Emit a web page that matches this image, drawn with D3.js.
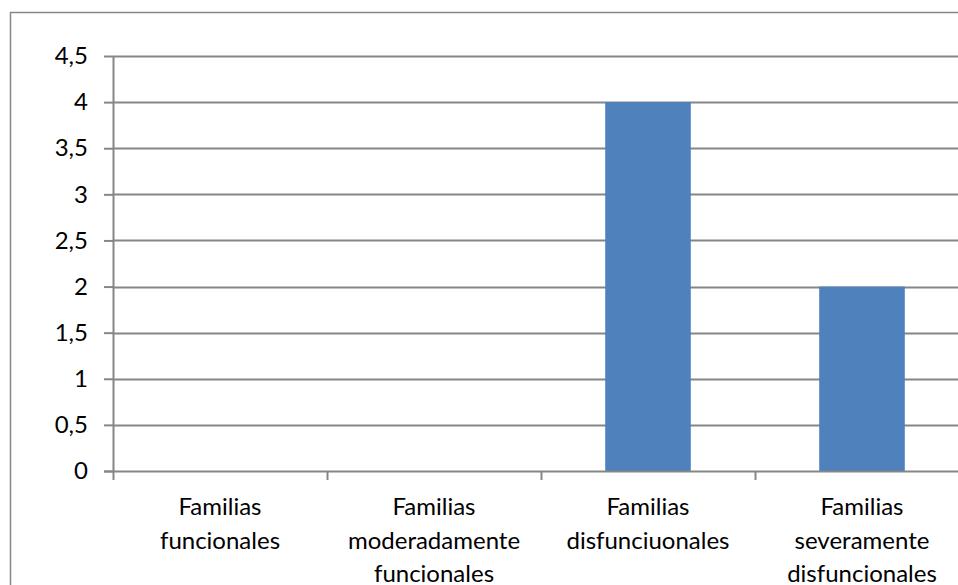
<!DOCTYPE html>
<html>
<head>
<meta charset="utf-8">
<script src="https://cdn.jsdelivr.net/npm/d3@7"></script>
<style>
  html, body { margin: 0; padding: 0; background: #fff; overflow: hidden; }
  svg { display: block; }
  text { font-family: Lato, "Open Sans", sans-serif; fill: #000; }
</style>
</head>
<body>
<svg id="chart" width="958" height="585"></svg>
<script>
// Family functioning categories and counts
const categories = [
  ["Familias", "funcionales"],
  ["Familias", "moderadamente", "funcionales"],
  ["Familias", "disfunciuonales"],
  ["Familias", "severamente", "disfuncionales"]
];
const values = [0, 0, 4, 2];
const yTicks = [0, 0.5, 1, 1.5, 2, 2.5, 3, 3.5, 4, 4.5];
const yTickLabels = ["0", "0,5", "1", "1,5", "2", "2,5", "3", "3,5", "4", "4,5"];

const svg = d3.select("#chart");
const gridColor = "#868686";
const fontSize = "24px";

// Outer chart frame
svg.append("rect")
  .attr("x", 10.5).attr("y", 12.5)
  .attr("width", 1000).attr("height", 1000)
  .attr("fill", "none").attr("stroke", gridColor).attr("stroke-width", 1.5);

const plot = { left: 113, right: 969, top: 56, bottom: 471 };

const x = d3.scaleBand()
  .domain(d3.range(categories.length))
  .range([plot.left, plot.right])
  .paddingInner(0).paddingOuter(0);

const y = d3.scaleLinear().domain([0, 4.5]).range([plot.bottom, plot.top]);

// Horizontal gridlines
svg.append("g").selectAll("line")
  .data(yTicks.filter(d => d > 0))
  .join("line")
  .attr("x1", plot.left).attr("x2", plot.right)
  .attr("y1", d => Math.round(y(d)) + 0.5).attr("y2", d => Math.round(y(d)) + 0.5)
  .attr("stroke", gridColor).attr("stroke-width", 2);

// Bars
const barW = x.bandwidth() * 0.4;
svg.append("g").selectAll("rect")
  .data(values)
  .join("rect")
  .attr("x", (d, i) => x(i) + (x.bandwidth() - barW) / 2)
  .attr("width", barW)
  .attr("y", d => y(d))
  .attr("height", d => y(0) - y(d))
  .attr("fill", "#4F81BD");

// Y axis
const yAxis = d3.axisLeft(y)
  .tickValues(yTicks)
  .tickFormat((d, i) => yTickLabels[i])
  .tickSize(9)
  .tickPadding(16);
const gy = svg.append("g")
  .attr("transform", `translate(${plot.left},0)`)
  .call(yAxis);
gy.select(".domain").attr("stroke", gridColor).attr("stroke-width", 2)
  .attr("d", `M0.5,${plot.top}V${plot.bottom + 1}`);
gy.selectAll(".tick line").attr("stroke", gridColor).attr("stroke-width", 2);
gy.selectAll(".tick text")
  .style("font-family", "Lato, 'Open Sans', sans-serif")
  .style("font-size", fontSize).attr("fill", "#000");

// X axis baseline and category ticks
const gx = svg.append("g");
gx.append("line")
  .attr("x1", plot.left - 9).attr("x2", plot.right)
  .attr("y1", plot.bottom + 0.5).attr("y2", plot.bottom + 0.5)
  .attr("stroke", gridColor).attr("stroke-width", 2);
gx.selectAll("line.cat")
  .data(d3.range(categories.length))
  .join("line").attr("class", "cat")
  .attr("x1", i => x(i) + 0.5).attr("x2", i => x(i) + 0.5)
  .attr("y1", plot.bottom).attr("y2", plot.bottom + 9)
  .attr("stroke", gridColor).attr("stroke-width", 2);

// Category labels, one tspan per line
const lab = svg.append("g").selectAll("text")
  .data(categories)
  .join("text")
  .attr("text-anchor", "middle")
  .style("font-size", fontSize)
  .attr("x", (d, i) => x(i) + x.bandwidth() / 2);
lab.selectAll("tspan")
  .data(d => d)
  .join("tspan")
  .attr("x", function () { return d3.select(this.parentNode).attr("x"); })
  .attr("y", (d, j) => 515 + j * 33.5)
  .text(d => d);
</script>
</body>
</html>
